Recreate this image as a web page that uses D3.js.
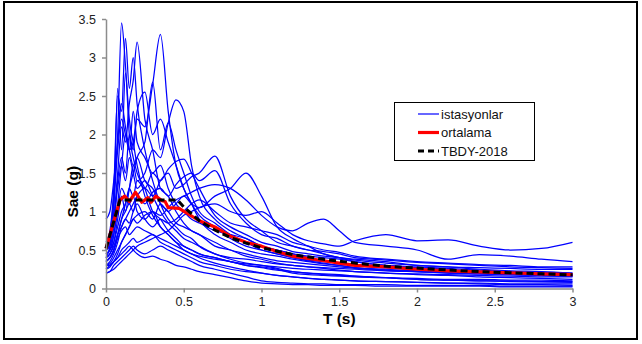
<!DOCTYPE html>
<html>
<head>
<meta charset="utf-8">
<script src="https://cdn.jsdelivr.net/npm/d3@7"></script>
<style>
  body { margin: 0; background: #fff; }
  svg { display: block; font-family: "Liberation Sans", Arial, sans-serif; }
</style>
</head>
<body>
<svg id="chart"></svg>
<script>
// periods (s) shared by every station spectrum
var periods = [0, 0.025, 0.05, 0.075, 0.1, 0.125, 0.15, 0.175, 0.2, 0.25, 0.3, 0.35, 0.4, 0.45, 0.5, 0.55, 0.6,
	0.7, 0.8, 0.9, 1.0, 1.1, 1.2, 1.3, 1.4, 1.5, 1.6, 1.8, 2.0, 2.2, 2.4, 2.6, 2.8, 3.0]

// station spectra Sae (g)
var stations = [
	[0.55, 0.7, 1.2, 2.0, 3.45, 2.9, 2.2, 1.9, 1.6, 1.2, 0.95, 0.8, 0.7, 0.6, 0.5, 0.45, 0.4, 0.33, 0.28, 0.24, 0.2, 0.17, 0.15, 0.13, 0.12, 0.11, 0.1, 0.09, 0.08, 0.07, 0.06, 0.05, 0.05, 0.04],
	[0.6, 0.75, 1.3, 2.5, 2.3, 3.25, 2.6, 3.0, 2.4, 1.8, 1.4, 1.1, 0.9, 0.8, 0.7, 0.65, 0.55, 0.45, 0.38, 0.33, 0.3, 0.26, 0.22, 0.2, 0.19, 0.18, 0.16, 0.14, 0.12, 0.11, 0.1, 0.09, 0.085, 0.08],
	[0.5, 0.6, 0.9, 1.5, 2.1, 1.9, 2.4, 2.7, 3.2, 2.2, 1.8, 1.3, 1.2, 1.0, 0.85, 0.75, 0.7, 0.55, 0.5, 0.42, 0.38, 0.33, 0.3, 0.28, 0.26, 0.24, 0.22, 0.2, 0.18, 0.17, 0.15, 0.14, 0.13, 0.12],
	[0.45, 0.5, 0.7, 1.1, 1.6, 2.0, 1.8, 1.9, 2.2, 2.1, 2.65, 3.3, 2.3, 1.6, 1.3, 1.1, 0.9, 0.7, 0.6, 0.5, 0.45, 0.42, 0.38, 0.35, 0.32, 0.3, 0.27, 0.25, 0.23, 0.22, 0.2, 0.19, 0.18, 0.17],
	[0.4, 0.55, 1.0, 2.6, 1.8, 2.8, 2.0, 1.7, 1.5, 1.3, 1.0, 0.9, 0.75, 0.65, 0.55, 0.5, 0.45, 0.4, 0.35, 0.3, 0.27, 0.24, 0.22, 0.2, 0.18, 0.17, 0.16, 0.14, 0.12, 0.11, 0.1, 0.1, 0.09, 0.09],
	[0.5, 0.55, 0.8, 1.4, 1.7, 1.5, 2.0, 1.8, 2.3, 2.55, 2.0, 2.2, 1.9, 1.6, 1.3, 1.1, 0.95, 0.8, 0.65, 0.55, 0.5, 0.45, 0.4, 0.37, 0.35, 0.33, 0.3, 0.27, 0.25, 0.23, 0.22, 0.2, 0.19, 0.18],
	[0.35, 0.4, 0.5, 0.7, 0.9, 1.1, 1.3, 1.6, 1.4, 1.5, 1.8, 1.7, 2.15, 2.45, 2.3, 1.6, 1.2, 0.9, 0.75, 0.65, 0.55, 0.5, 0.45, 0.4, 0.36, 0.33, 0.3, 0.27, 0.25, 0.23, 0.21, 0.2, 0.19, 0.18],
	[0.4, 0.45, 0.6, 0.9, 1.2, 1.0, 1.3, 1.5, 1.7, 1.9, 2.68, 1.8, 2.15, 1.8, 1.5, 1.2, 1.0, 0.85, 0.7, 0.6, 0.5, 0.45, 0.4, 0.36, 0.33, 0.3, 0.27, 0.24, 0.22, 0.2, 0.19, 0.18, 0.17, 0.16],
	[0.3, 0.35, 0.45, 0.6, 0.8, 0.9, 1.0, 1.1, 1.2, 1.3, 1.2, 1.4, 1.5, 1.3, 1.35, 1.45, 1.5, 1.72, 1.2, 0.9, 0.75, 0.6, 0.55, 0.5, 0.45, 0.4, 0.35, 0.3, 0.27, 0.25, 0.22, 0.2, 0.19, 0.18],
	[0.25, 0.3, 0.35, 0.45, 0.6, 0.7, 0.8, 0.9, 0.95, 1.0, 0.9, 1.1, 1.0, 1.1, 1.2, 1.1, 1.05, 1.2, 1.3, 1.5, 1.2, 0.8, 0.65, 0.55, 0.45, 0.4, 0.38, 0.35, 0.3, 0.28, 0.25, 0.23, 0.22, 0.2],
	[0.3, 0.32, 0.4, 0.5, 0.6, 0.7, 0.8, 0.9, 0.85, 0.95, 1.0, 0.95, 1.05, 1.15, 1.2, 1.25, 1.3, 1.35, 1.3, 1.15, 0.95, 0.8, 0.75, 0.85, 0.9, 0.75, 0.6, 0.55, 0.5, 0.38, 0.44, 0.42, 0.38, 0.35],
	[0.2, 0.22, 0.25, 0.3, 0.35, 0.4, 0.45, 0.5, 0.55, 0.6, 0.65, 0.7, 0.75, 0.85, 0.95, 1.0, 1.05, 1.1, 1.0, 0.95, 1.0, 0.85, 0.7, 0.62, 0.58, 0.55, 0.62, 0.7, 0.62, 0.63, 0.55, 0.5, 0.52, 0.6],
	[0.45, 0.5, 0.6, 0.8, 1.0, 1.1, 1.3, 1.2, 1.4, 1.3, 1.5, 1.4, 1.55, 1.65, 1.68, 1.5, 1.3, 0.95, 0.8, 0.7, 0.6, 0.55, 0.48, 0.45, 0.42, 0.4, 0.37, 0.33, 0.3, 0.28, 0.27, 0.26, 0.25, 0.25],
	[0.35, 0.4, 0.5, 0.7, 0.9, 1.0, 1.1, 1.0, 1.2, 1.1, 1.25, 1.3, 1.2, 1.35, 1.45, 1.5, 1.4, 1.53, 1.1, 0.85, 0.7, 0.65, 0.55, 0.5, 0.48, 0.45, 0.4, 0.37, 0.34, 0.32, 0.3, 0.28, 0.27, 0.26],
	[0.2, 0.22, 0.3, 0.35, 0.4, 0.45, 0.5, 0.55, 0.5, 0.45, 0.5, 0.55, 0.5, 0.45, 0.4, 0.35, 0.3, 0.25, 0.2, 0.15, 0.1, 0.08, 0.07, 0.06, 0.06, 0.05, 0.05, 0.05, 0.04, 0.04, 0.04, 0.03, 0.03, 0.03],
	[0.3, 0.3, 0.35, 0.4, 0.5, 0.55, 0.6, 0.65, 0.6, 0.65, 0.7, 0.6, 0.55, 0.5, 0.45, 0.4, 0.35, 0.3, 0.25, 0.22, 0.2, 0.17, 0.15, 0.13, 0.12, 0.11, 0.1, 0.09, 0.08, 0.07, 0.07, 0.06, 0.06, 0.06],
	[0.5, 0.6, 0.9, 1.3, 1.6, 1.4, 1.7, 1.5, 1.3, 1.4, 1.2, 1.0, 0.85, 0.75, 0.65, 0.6, 0.55, 0.45, 0.4, 0.38, 0.35, 0.32, 0.3, 0.28, 0.27, 0.26, 0.25, 0.23, 0.22, 0.21, 0.2, 0.19, 0.18, 0.17],
	[0.55, 0.7, 1.1, 1.8, 2.2, 2.0, 1.8, 2.3, 1.9, 1.7, 1.5, 1.6, 1.3, 1.1, 1.0, 0.9, 0.85, 0.75, 0.7, 0.65, 0.55, 0.5, 0.45, 0.42, 0.4, 0.38, 0.35, 0.3, 0.28, 0.26, 0.24, 0.22, 0.21, 0.2],
	[0.9, 1.0, 1.4, 1.9, 2.4, 2.1, 1.8, 1.6, 1.7, 1.4, 1.3, 1.1, 1.0, 0.85, 0.8, 0.75, 0.7, 0.6, 0.5, 0.45, 0.4, 0.36, 0.34, 0.32, 0.3, 0.28, 0.26, 0.24, 0.22, 0.2, 0.19, 0.18, 0.17, 0.16],
	[0.4, 0.45, 0.55, 0.7, 0.8, 0.9, 0.85, 1.0, 1.1, 0.9, 0.8, 0.9, 0.85, 0.9, 1.0, 1.1, 1.15, 1.0, 0.85, 0.8, 0.75, 0.7, 0.6, 0.55, 0.5, 0.47, 0.42, 0.38, 0.35, 0.33, 0.31, 0.3, 0.28, 0.28],
	[0.35, 0.4, 0.5, 0.65, 0.75, 0.8, 0.7, 0.75, 0.8, 0.75, 0.7, 0.65, 0.6, 0.55, 0.5, 0.45, 0.42, 0.38, 0.35, 0.3, 0.28, 0.25, 0.2, 0.18, 0.17, 0.16, 0.15, 0.14, 0.13, 0.12, 0.12, 0.11, 0.11, 0.1],
	[0.45, 0.5, 0.7, 1.0, 1.3, 1.2, 1.1, 1.2, 1.0, 0.9, 1.0, 0.8, 0.7, 0.6, 0.55, 0.5, 0.45, 0.4, 0.35, 0.32, 0.3, 0.28, 0.26, 0.25, 0.24, 0.23, 0.22, 0.2, 0.19, 0.18, 0.17, 0.16, 0.15, 0.15],
	[0.25, 0.28, 0.35, 0.4, 0.45, 0.5, 0.55, 0.5, 0.45, 0.4, 0.42, 0.38, 0.35, 0.3, 0.28, 0.25, 0.22, 0.18, 0.14, 0.1, 0.07, 0.06, 0.05, 0.05, 0.04, 0.04, 0.04, 0.03, 0.03, 0.03, 0.03, 0.02, 0.02, 0.02]
]

// mean spectrum (ortalama)
var meanT = [0, 0.04, 0.09, 0.12, 0.15, 0.19, 0.23, 0.27, 0.29, 0.32, 0.36, 0.38, 0.4, 0.47, 0.52, 0.6, 0.7, 0.8, 0.9, 1.0, 1.1, 1.2, 1.3, 1.4, 1.5, 1.6, 1.8, 2.0, 2.2, 2.5, 2.8, 3.0]
var meanSa = [0.52, 0.8, 1.15, 1.2, 1.13, 1.25, 1.12, 1.18, 1.12, 1.2, 1.14, 1.13, 1.05, 1.04, 0.98, 0.88, 0.8, 0.68, 0.6, 0.55, 0.48, 0.42, 0.39, 0.36, 0.33, 0.3, 0.28, 0.25, 0.23, 0.21, 0.19, 0.18]

// TBDY-2018 design spectrum
var codeT = [0, 0.09, 0.46, 0.5, 0.6, 0.7, 0.8, 0.9, 1.0, 1.2, 1.4, 1.6, 1.8, 2.0, 2.2, 2.4, 2.6, 2.8, 3.0]
var codeSa = [0.52, 1.15, 1.15, 1.06, 0.88, 0.76, 0.66, 0.59, 0.53, 0.44, 0.38, 0.33, 0.29, 0.265, 0.24, 0.22, 0.204, 0.19, 0.177]

var xTicks = [0, 0.5, 1, 1.5, 2, 2.5, 3]
var yTicks = [0, 0.5, 1, 1.5, 2, 2.5, 3, 3.5]

var width = 642
var height = 344
var margin = ({top: 19, right: 69, bottom: 55, left: 106})

var svg = d3.select("#chart")
	.attr("width", width)
	.attr("height", height)

// outer frame
svg.append("rect")
	.attr("x", 4).attr("y", 2)
	.attr("width", 633).attr("height", 337)
	.attr("fill", "#fff")
	.attr("stroke", "#000")
	.attr("stroke-width", 2)

var x = d3.scaleLinear()
	.domain([0, 3])
	.range([margin.left, width - margin.right - 0.5])

var y = d3.scaleLinear()
	.domain([0, 3.5])
	.range([height - margin.bottom - 0.5, margin.top])

var xAxis = g => g
	.attr("transform", `translate(0,${height - margin.bottom - 0.5})`)
	.call(d3.axisBottom(x).tickValues(xTicks).tickFormat(d3.format("")).tickSize(4).tickPadding(5).tickSizeOuter(0))

var yAxis = g => g
	.attr("transform", `translate(${margin.left},0)`)
	.call(d3.axisLeft(y).tickValues(yTicks).tickFormat(d3.format("")).tickSize(4).tickPadding(6).tickSizeOuter(0))

var line = d3.line()
	.x(d => x(d[0]))
	.y(d => y(d[1]))
	.curve(d3.curveMonotoneX)

var stationGroup = svg.append("g")
stations.forEach(s => {
	stationGroup.append("path")
		.attr("fill", "none")
		.attr("stroke", "#0000ff")
		.attr("stroke-width", 1.25)
		.attr("d", line(s.map((v, i) => [periods[i], v])))
})

svg.append("path")
	.attr("fill", "none")
	.attr("stroke", "#ff0000")
	.attr("stroke-width", 3.2)
	.attr("stroke-linejoin", "round")
	.attr("d", d3.line().x(d => x(d[0])).y(d => y(d[1]))(meanSa.map((v, i) => [meanT[i], v])))

svg.append("path")
	.attr("fill", "none")
	.attr("stroke", "#000")
	.attr("stroke-width", 3)
	.attr("stroke-dasharray", "7,4")
	.attr("d", d3.line().x(d => x(d[0])).y(d => y(d[1]))(codeSa.map((v, i) => [codeT[i], v])))

for (let ax of [xAxis, yAxis]) {
	svg.append("g")
		.call(ax)
		.call(g => g.selectAll(".domain, line").attr("stroke", "#8c8c8c").attr("stroke-width", 1.5))
		.call(g => g.selectAll("text").attr("fill", "#222").attr("font-size", 12.5).attr("font-family", "Liberation Sans, Arial, sans-serif"))
}

// axis titles
svg.append("text")
	.attr("x", x(1.5)).attr("y", 324)
	.attr("text-anchor", "middle")
	.attr("font-size", 15.5).attr("font-weight", "bold")
	.text("T (s)")

svg.append("text")
	.attr("transform", `translate(78,${y(1.75) + 38}) rotate(-90)`)
	.attr("text-anchor", "middle")
	.attr("font-size", 15.5).attr("font-weight", "bold")
	.text("Sae (g)")

// legend
var legendItems = [
	{label: "istasyonlar", color: "#0000ff", w: 1.2, dash: null},
	{label: "ortalama", color: "#ff0000", w: 3.2, dash: null},
	{label: "TBDY-2018", color: "#000", w: 3, dash: "6,4"}
]
var legend = svg.append("g")
legend.append("rect")
	.attr("x", 394.5).attr("y", 102.5)
	.attr("width", 140).attr("height", 58)
	.attr("fill", "#fff").attr("stroke", "#000").attr("stroke-width", 1)
legendItems.forEach((it, i) => {
	var ly = 114 + i * 18.5
	legend.append("line")
		.attr("x1", 418).attr("x2", 439)
		.attr("y1", ly).attr("y2", ly)
		.attr("stroke", it.color).attr("stroke-width", it.w)
		.attr("stroke-dasharray", it.dash)
	legend.append("text")
		.attr("x", 441).attr("y", ly + 4.5)
		.attr("font-size", 13).attr("fill", "#111")
		.text(it.label)
})
</script>
</body>
</html>
